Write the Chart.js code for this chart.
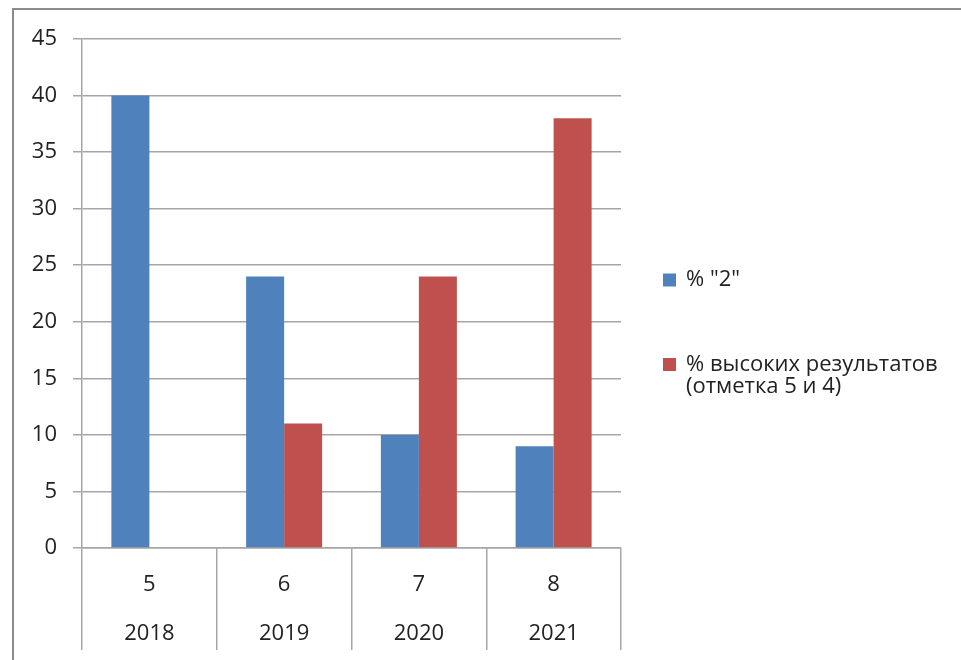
<!DOCTYPE html>
<html>
<head>
<meta charset="utf-8">
<script src="https://cdn.jsdelivr.net/npm/chart.js@4.4.0/dist/chart.umd.min.js"></script>
<style>
  html, body { margin: 0; padding: 0; background: #fff; overflow: hidden; }
  #frame { position: absolute; left: 12px; top: 8px; width: 1000px; height: 700px; border: 2px solid #8c8c8c; }
  #chart { position: absolute; left: 0; top: 0; }
</style>
</head>
<body>
<div id="frame"></div>
<canvas id="chart" width="961" height="660"></canvas>
<script>
// data
const grades = ["5", "6", "7", "8"];
const years = ["2018", "2019", "2020", "2021"];
const failPercent = [40, 24, 10, 9];
const highPercent = [null, 11, 24, 38];
const seriesNames = ['% "2"', "% высоких результатов (отметка 5 и 4)"];
const legendLines = [['% "2"'], ["% высоких результатов", "(отметка 5 и 4)"]];
const yMax = 45;
const yStep = 5;

const FONT = "'Open Sans', 'DejaVu Sans', sans-serif";
const FONT_SIZE = 22;
const GRID = "#a6a6a6";

// legend drawn beside the plot (the built-in one gets squeezed to a quarter of the width)
const sideLegend = {
  id: "sideLegend",
  afterDraw(ch) {
    const c = ch.ctx;
    const x = ch.chartArea.right + 42;
    const rows = [ch.height / 2 - 50, ch.height / 2 + 34.5];
    c.save();
    c.font = FONT_SIZE + "px " + FONT;
    c.textBaseline = "middle";
    c.textAlign = "left";
    ch.data.datasets.forEach((ds, i) => {
      const y = rows[i];
      c.fillStyle = ds.backgroundColor;
      c.fillRect(x, y - 6.5, 13, 13);
      c.fillStyle = "#222";
      legendLines[i].forEach((line, k) => {
        c.fillText(line, x + 23, y + k * 22);
      });
    });
    c.restore();
  },
};

const ctx = document.getElementById("chart").getContext("2d");

const chart = new Chart(ctx, {
  type: "bar",
  data: {
    labels: grades.map((g, i) => [g, years[i]]),
    datasets: [
      {
        label: seriesNames[0],
        data: failPercent,
        backgroundColor: "#4f81bd",
      },
      {
        label: seriesNames[1],
        data: highPercent,
        backgroundColor: "#c0504d",
      },
    ],
  },
  options: {
    responsive: false,
    animation: false,
    layout: { padding: { top: 9, left: 0, right: 340, bottom: 0 } },
    datasets: {
      bar: { categoryPercentage: 0.564, barPercentage: 1 },
    },
    scales: {
      x: {
        offset: true,
        grid: {
          offset: true,
          drawOnChartArea: false,
          drawTicks: true,
          tickLength: 102,
          color: GRID,
          lineWidth: 1.5,
        },
        border: { display: true, color: GRID, width: 1.5 },
        ticks: {
          color: "#222",
          maxRotation: 0,
          autoSkip: false,
          padding: -89.5,
          font: { family: FONT, size: FONT_SIZE, lineHeight: "49px" },
        },
        afterFit: (scale) => {
          scale.height = 112;
        },
      },
      y: {
        min: 0,
        max: yMax,
        ticks: {
          stepSize: yStep,
          color: "#222",
          padding: 16,
          font: { family: FONT, size: FONT_SIZE },
        },
        grid: { color: GRID, lineWidth: 1.5, tickLength: 9 },
        border: { display: true, color: GRID, width: 1.5 },
        afterFit: (scale) => {
          scale.width = 82;
          scale.paddingTop = 39;
        },
      },
    },
    plugins: {
      tooltip: { enabled: false },
      legend: { display: false },
    },
  },
  plugins: [sideLegend],
});
</script>
</body>
</html>
